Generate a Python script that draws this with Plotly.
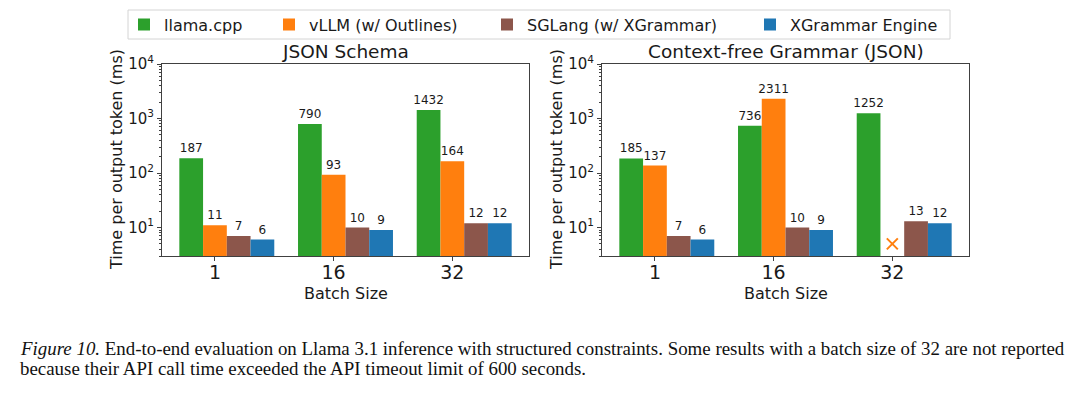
import plotly.graph_objects as go

# ---------------- data ----------------
batch_sizes = ["1", "16", "32"]
series_names = ["llama.cpp", "vLLM (w/ Outlines)", "SGLang (w/ XGrammar)", "XGrammar Engine"]
series_colors = ["#2ca02c", "#ff7f0e", "#8c564b", "#1f77b4"]

json_schema = {
    "llama.cpp": [187, 790, 1432],
    "vLLM (w/ Outlines)": [11, 93, 164],
    "SGLang (w/ XGrammar)": [7, 10, 12],
    "XGrammar Engine": [6, 9, 12],
}
cfg_json = {
    "llama.cpp": [185, 736, 1252],
    "vLLM (w/ Outlines)": [137, 2311, None],
    "SGLang (w/ XGrammar)": [7, 10, 13],
    "XGrammar Engine": [6, 9, 12],
}
# position of the "not reported" cross (vLLM, batch 32, CFG panel)
missing_series = "vLLM (w/ Outlines)"
missing_batch_index = 2
missing_marker_y = 5

panel_titles = ["JSON Schema", "Context-free Grammar (JSON)"]
y_title = "Time per output token (ms)"
x_title = "Batch Size"
caption_line1 = ("<i>Figure 10.</i> End-to-end evaluation on Llama 3.1 inference with structured "
                 "constraints. Some results with a batch size of 32 are not reported")
caption_line2 = "because their API call time exceeded the API timeout limit of 600 seconds."

# ---------------- page geometry ----------------
PAGE_OFF = 8                      # default body margin of the html page
W, H = 1080 - PAGE_OFF, 399 - PAGE_OFF
FONT = "DejaVu Sans"
TXT = "#1a1a1a"


def px(xp):   # page x (px) -> paper fraction
    return (xp - PAGE_OFF) / W


def py(yp):   # page y (px, from top) -> paper fraction
    return 1 - (yp - PAGE_OFF) / H


fig = go.Figure()
xs = list(range(len(batch_sizes)))
legend_ids = ["legend", "legend2", "legend3", "legend4"]

for p, data in enumerate([json_schema, cfg_json]):
    xa = "x" if p == 0 else "x2"
    ya = "y" if p == 0 else "y2"
    for k, (name, color) in enumerate(zip(series_names, series_colors)):
        vals = data[name]
        fig.add_trace(go.Bar(
            x=xs, y=vals, name=name, marker=dict(color=color, line=dict(width=0)),
            text=["" if v is None else str(v) for v in vals],
            textposition="outside", constraintext="none", cliponaxis=False,
            textfont=dict(family=FONT, size=12, color=TXT),
            xaxis=xa, yaxis=ya, showlegend=(p == 0), legend=legend_ids[k],
            hoverinfo="skip",
        ))

# cross marking the unreported result
slot = series_names.index(missing_series)
fig.add_trace(go.Scatter(
    x=[missing_batch_index + (slot - 1.5) * 0.2], y=[missing_marker_y],
    mode="markers", xaxis="x2", yaxis="y2", showlegend=False,
    marker=dict(symbol="x-thin", size=11, line=dict(width=2, color=series_colors[slot]),
                color=series_colors[slot]),
    hoverinfo="skip", cliponaxis=False,
))

left_axes = (162, 529)
right_axes = (602, 969)
top_px, bottom_px = 64, 256
ydom = [py(bottom_px), py(top_px)]

major_vals = [10, 100, 1000, 10000]
major_text = ["10<sup>%d</sup>" % i for i in range(1, 5)]
minor_vals = [m * 10 ** e for e in range(0, 4) for m in range(2, 10) if m * 10 ** e >= 3]

tick_positions = [i - 0.1 for i in xs]
line_color = "#404040"

xaxis_common = dict(
    range=[-0.546, len(xs) - 1 + 0.546], tickmode="array", tickvals=tick_positions,
    ticktext=batch_sizes, ticks="outside", ticklen=4, tickcolor=line_color,
    ticklabelstandoff=-5,
    showline=True, linecolor=line_color, linewidth=1, mirror=True,
    showgrid=False, zeroline=False, tickfont=dict(family=FONT, size=19, color=TXT),
)
yaxis_common = dict(
    type="log", range=[0.4771, 4], tickmode="array", tickvals=major_vals, ticktext=major_text,
    ticks="outside", ticklen=4, tickcolor=line_color,
    minor=dict(tickmode="array", tickvals=minor_vals, ticks="outside", ticklen=2,
               tickcolor=line_color, showgrid=False),
    showline=True, linecolor=line_color, linewidth=1, mirror=True,
    showgrid=False, zeroline=False, tickfont=dict(family=FONT, size=15, color=TXT),
)

legend_text_x = [166, 311, 529, 792]   # page x where each legend label starts
legend_cfg = {}
for lid, tx in zip(legend_ids, legend_text_x):
    legend_cfg[lid] = dict(orientation="h", x=px(tx - 42), y=py(24.5), xanchor="left",
                           yanchor="middle", borderwidth=0, bgcolor="rgba(0,0,0,0)",
                           font=dict(family=FONT, size=16, color=TXT))

fig.update_layout(
    width=W, height=H, margin=dict(l=0, r=0, t=0, b=0, autoexpand=False),
    paper_bgcolor="white", plot_bgcolor="white",
    barmode="group", bargap=0.2, bargroupgap=0,
    xaxis=dict(domain=[px(left_axes[0]), px(left_axes[1])], anchor="y", **xaxis_common),
    yaxis=dict(domain=ydom, anchor="x", **yaxis_common),
    xaxis2=dict(domain=[px(right_axes[0]), px(right_axes[1])], anchor="y2", **xaxis_common),
    yaxis2=dict(domain=ydom, anchor="x2", **yaxis_common),
    showlegend=True,
    **legend_cfg,
)

# legend frame
fig.add_shape(type="rect", xref="paper", yref="paper", x0=px(128), x1=px(950),
              y0=py(39), y1=py(10), line=dict(color="#d4d4d4", width=1),
              fillcolor="rgba(0,0,0,0)", layer="below")

annotations = []
for p, (x0, x1) in enumerate([left_axes, right_axes]):
    cx = px((x0 + x1) / 2)
    annotations.append(dict(text=panel_titles[p], x=cx, y=py(51), xref="paper", yref="paper",
                            xanchor="center", yanchor="middle", showarrow=False,
                            font=dict(family=FONT, size=18.5, color=TXT)))
    annotations.append(dict(text=x_title, x=cx, y=py(293), xref="paper", yref="paper",
                            xanchor="center", yanchor="middle", showarrow=False,
                            font=dict(family=FONT, size=16, color=TXT)))
    annotations.append(dict(text=y_title, x=px(x0 - 46), y=py(160), xref="paper",
                            yref="paper", xanchor="center", yanchor="middle", showarrow=False,
                            textangle=-90, font=dict(family=FONT, size=16, color=TXT)))

for txt, ypx in [(caption_line1, 348), (caption_line2, 368)]:
    annotations.append(dict(text=txt, x=px(18), y=py(ypx), xref="paper", yref="paper",
                            xanchor="left", yanchor="middle", showarrow=False,
                            font=dict(family="Liberation Serif", size=18.9, color="#111111")))
fig.update_layout(annotations=annotations)

fig.write_html("out.html")
